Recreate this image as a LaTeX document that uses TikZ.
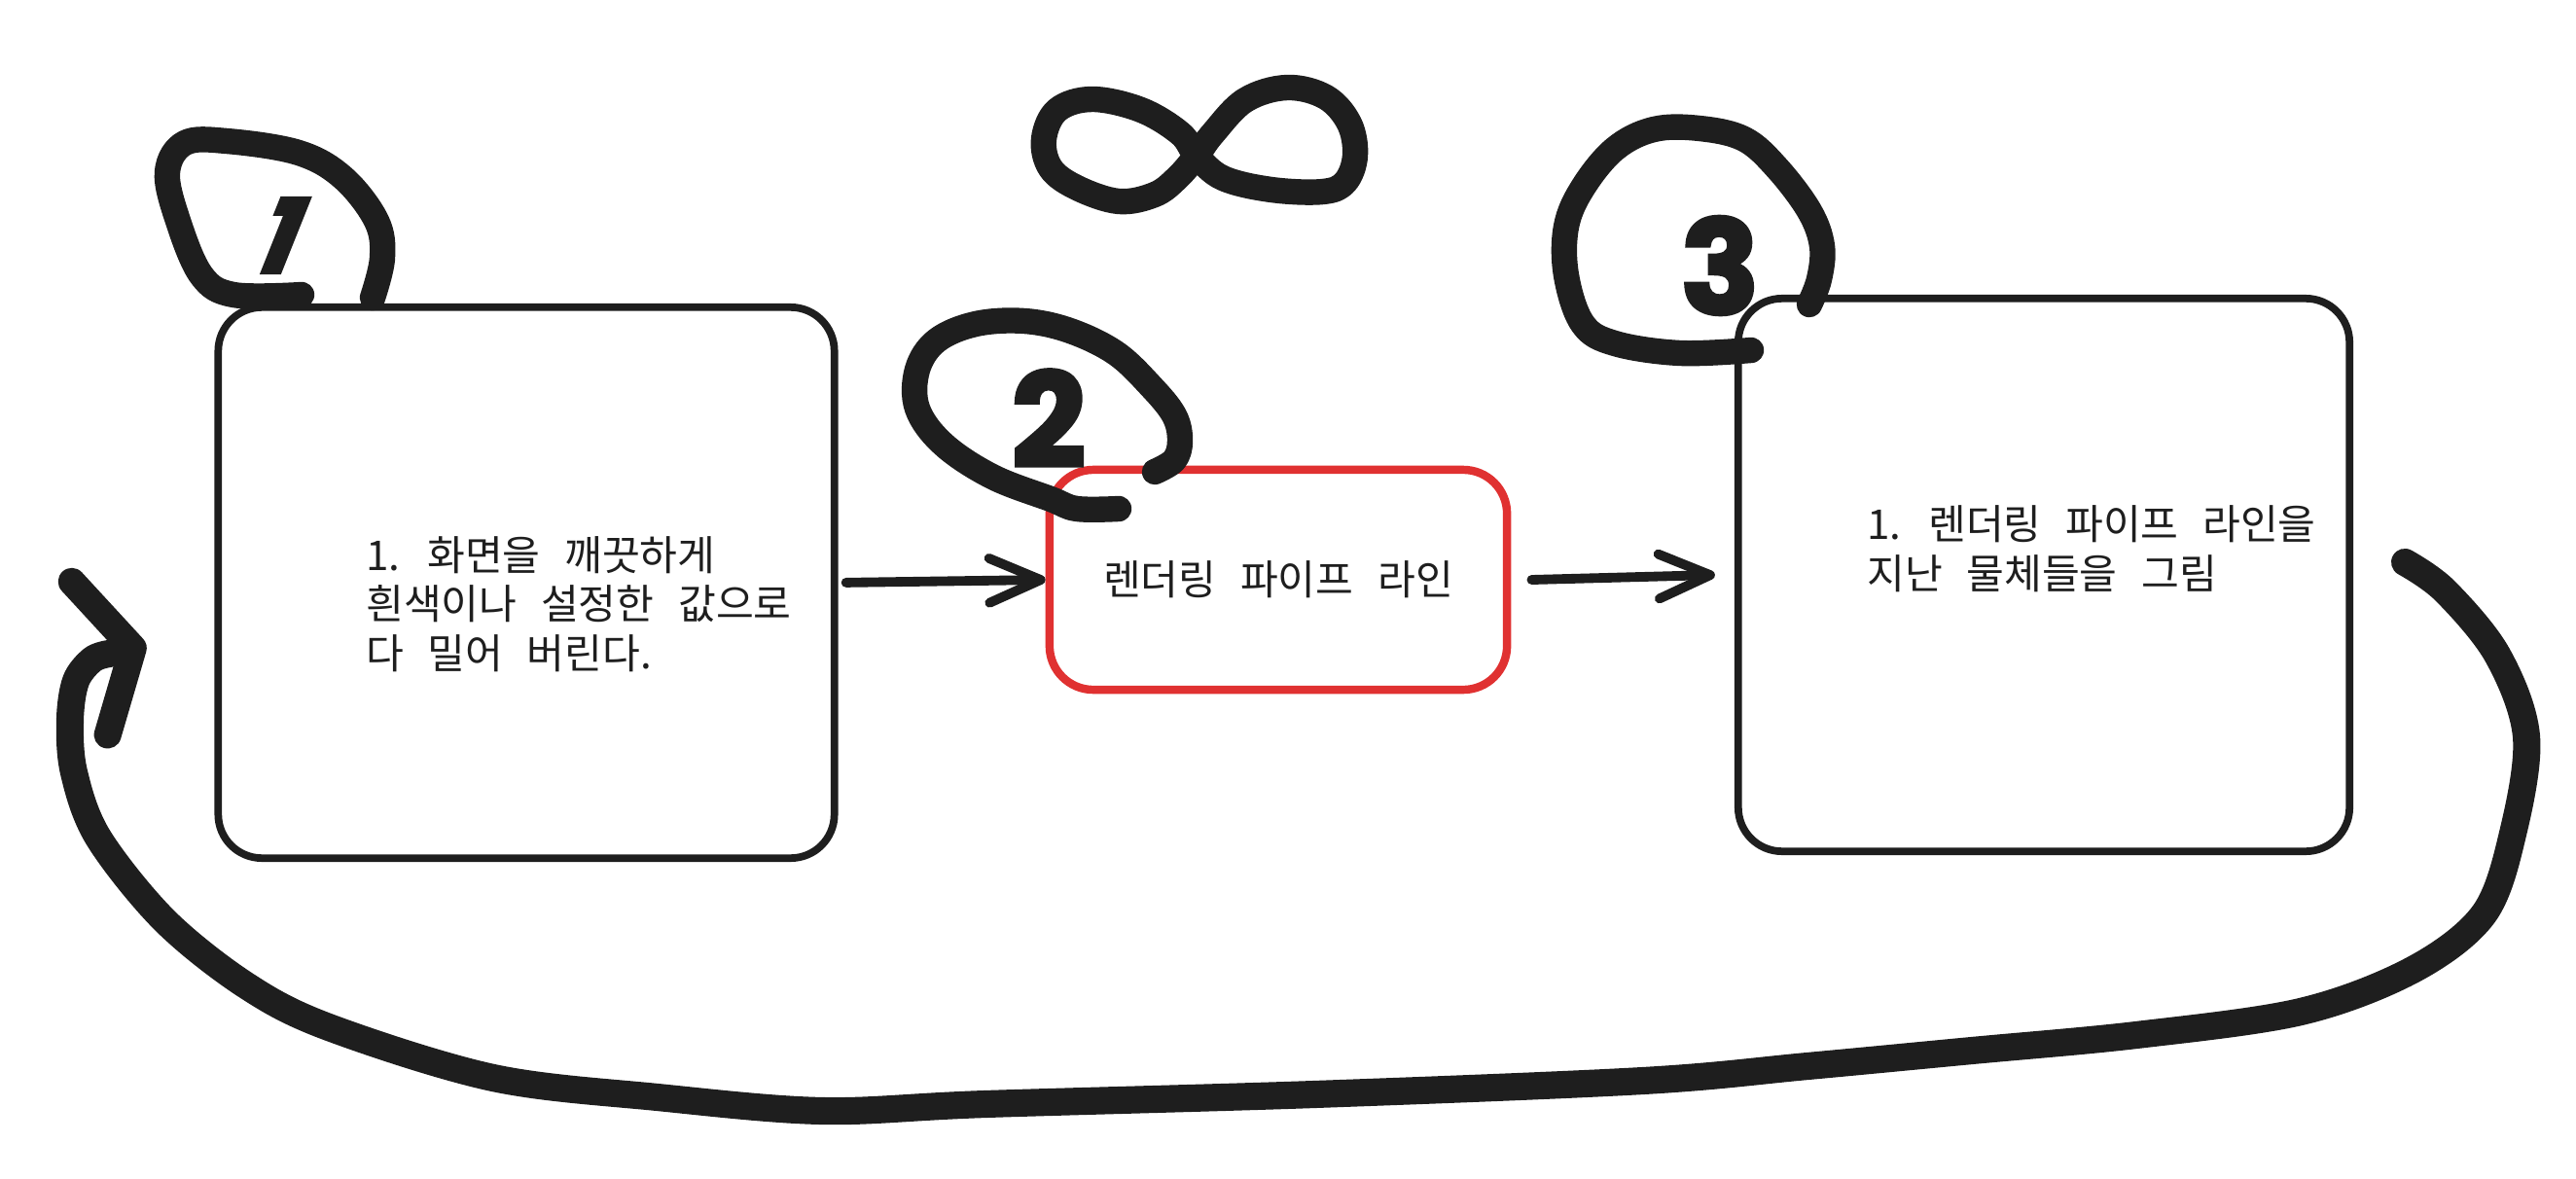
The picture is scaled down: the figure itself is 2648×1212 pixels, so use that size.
\documentclass[tikz,border=0pt]{standalone}
\usepackage{fontspec}
\usepackage{tikz}
\usetikzlibrary{arrows.meta,positioning}
\newfontfamily\kofont[WordSpace=2.6]{Noto Sans CJK KR}
\newfontfamily\numfont[FakeBold=3]{Poppins}
\definecolor{ink}{HTML}{1E1E1E}
\definecolor{pipered}{HTML}{E03131}

\begin{document}
\begin{tikzpicture}[x=0.01cm,y=-0.01cm,
  box/.style={draw=ink,line width=2.2pt,rounded corners=0.45cm},
  txt/.style={text=ink,font=\kofont\fontsize{12}{14.4}\selectfont,align=left,inner sep=0pt},
  flow/.style={draw=ink,line width=2.8pt,line cap=round,
    -{Straight Barb[length=15pt,width=13pt,line cap=round,line join=round]}},
  bigloop/.style={draw=ink,line width=8pt,line cap=round,line join=round,
    -{Straight Barb[length=13pt,width=46pt,line cap=round,line join=round]}},
  blob/.style={draw=ink,line width=7.5pt,line cap=round,line join=round},
  digit/.style={text=ink,font=\numfont\bfseries\fontsize{38}{38}\selectfont,inner sep=0pt}]
  \useasboundingbox (0,0) rectangle (2648,1212);

  % 箱
  \node[box,minimum width=6.33cm,minimum height=5.66cm] (b1) at (541,599) {};
  \node[box,draw=pipered,line width=2.4pt,minimum width=4.7cm,minimum height=2.26cm,
    txt,align=center] (b2) at (1314,596) {렌더링 파이프 라인};
  \node[box,minimum width=6.28cm,minimum height=5.68cm] (b3) at (2101,591) {};

  % 文
  \node[txt] (t1) at ([shift={(54,22)}]b1.center) {1. 화면을 깨끗하게\\흰색이나 설정한 값으로\\다 밀어 버린다.};
  \node[txt] (t3) at ([shift={(49,-27)}]b3.center) {1. 렌더링 파이프 라인을\\지난 물체들을 그림};

  % 矢印
  \draw[flow,shorten <=2.3pt] (b1.east) -- (b2.west);
  \draw[flow] ([xshift=6pt]b2.east) -- ([xshift=-5.7pt]b3.west);

  % 戻りの矢印
  \coordinate (loopstart) at ([shift={(53,-13)}]b3.east);
  \coordinate (loopend) at ([shift={(-70,64)}]b1.west);
  \draw[bigloop] plot[smooth,tension=0.55] coordinates {(loopstart) (2513,607) (2567,673)
    (2597,757) (2583,857) (2553,940) (2480,997) (2365,1040) (2196,1064) (2027,1080)
    (1858,1096) (1689,1111) (1351,1125) (1013,1135) (845,1142) (676,1128) (507,1108)
    (338,1056) (253,1013) (169,946) (101,861) (76,794) (72,740) (78,700) (95,678)
    (112,672)} -- (loopend);

  % 番号
  \draw[blob] plot[smooth,tension=0.6] coordinates {(310,303) (240,303) (207,283)
    (183,227) (172,177) (190,147) (233,145) (307,157) (353,183) (387,227) (393,265) (383,306)};
  \node[digit,font=\numfont\bfseries\fontsize{30}{30}\selectfont,xslant=0.4,transform shape] (n1) at (291,242) {1};
  \draw[blob] plot[smooth,tension=0.6] coordinates {(1150,523) (1107,523) (1080,513)
    (1020,490) (970,457) (943,420) (943,380) (963,350) (1003,333) (1053,330) (1100,340)
    (1147,363) (1183,397) (1207,427) (1213,453) (1207,473) (1187,485)};
  \node[digit] (n2) at (1078,430) {2};
  \draw[blob] plot[smooth,tension=0.6] coordinates {(1800,360) (1727,363) (1660,353)
    (1627,333) (1610,283) (1610,233) (1627,193) (1660,153) (1700,133) (1747,132)
    (1793,143) (1827,173) (1860,217) (1873,253) (1870,287) (1860,313)};
  \node[digit] (n3) at (1768,273) {3};

  % 無限
  \draw[blob] plot[smooth cycle,tension=0.6] coordinates {(1230,160) (1213,137) (1173,113)
    (1123,102) (1087,113) (1073,143) (1080,173) (1107,193) (1150,207) (1187,200) (1210,183)
    (1230,160) (1247,137) (1280,103) (1323,90) (1363,100) (1387,127) (1393,160) (1383,187)
    (1360,197) (1307,195) (1257,183)};
\end{tikzpicture}
\end{document}
